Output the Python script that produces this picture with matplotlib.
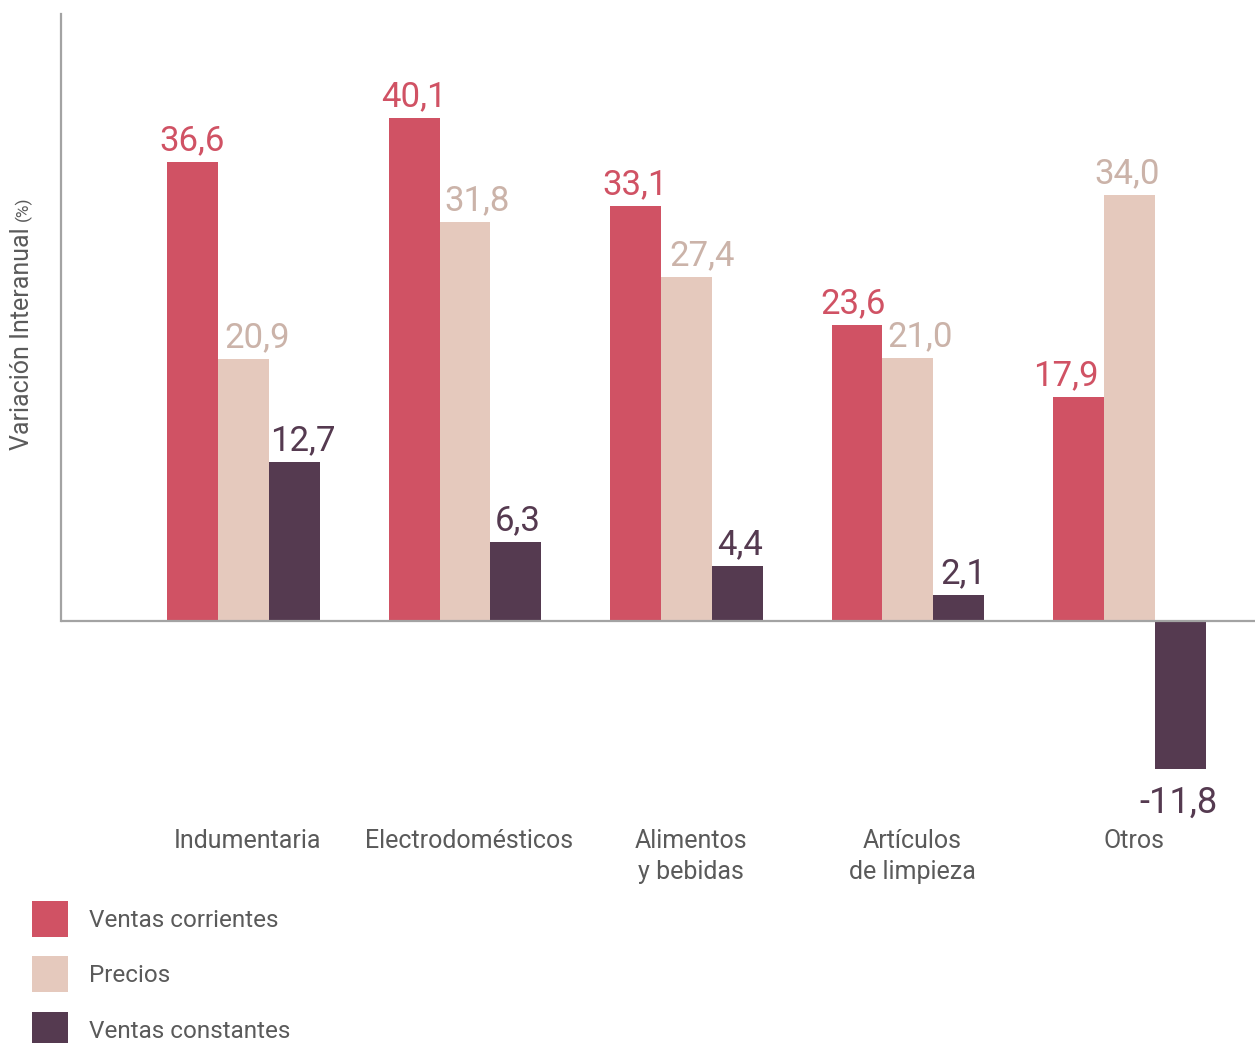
import matplotlib.pyplot as plt
import numpy as np

plt.rcParams['font.family'] = ['Roboto', 'DejaVu Sans']

# data
categories = ['Indumentaria', 'Electrodomésticos', 'Alimentos\ny bebidas',
              'Artículos\nde limpieza', 'Otros']
ventas_corrientes = [36.6, 40.1, 33.1, 23.6, 17.9]
precios = [20.9, 31.8, 27.4, 21.0, 34.0]
ventas_constantes = [12.7, 6.3, 4.4, 2.1, -11.8]
series_names = ['Ventas corrientes', 'Precios', 'Ventas constantes']

colors = ['#D05264', '#E5C9BD', '#553A50']
label_colors = ['#D05264', '#CBB3A9', '#553A50']
gray = '#A3A3A3'
text_gray = '#5A5A5A'

# horizontal nudges (in points) so the value labels don't collide
nudges = [[0, 0, 0, -3, -9],
          [10, 9, 11, 9, -2],
          [6, 1, 2, 3, -1]]

W, H = 1255, 1043
fig = plt.figure(figsize=(W / 100, H / 100), dpi=100)

# axes placed in pixel coords: left 61, top 14, bottom 800
ax = fig.add_axes([61 / W, 1 - 800 / H, 1 - 61 / W, (800 - 14) / H])

x = np.arange(len(categories))
width = 0.23
ax.set_xlim(-0.824, 4.567)
ax.set_ylim(-14.27, 48.4)

all_series = [ventas_corrientes, precios, ventas_constantes]
for i, vals in enumerate(all_series):
    pos = x + (i - 1) * width
    ax.bar(pos, vals, width, color=colors[i], label=series_names[i], zorder=2)
    for j, (px, v) in enumerate(zip(pos, vals)):
        txt = f'{v:.1f}'.replace('.', ',')
        if v >= 0:
            ax.annotate(txt, (px, v), xytext=(nudges[i][j], 8.5), textcoords='offset points',
                        ha='center', va='baseline', fontsize=25, color=label_colors[i])
        else:
            ax.annotate(txt, (px, v), xytext=(nudges[i][j], -11), textcoords='offset points',
                        ha='center', va='top', fontsize=26, color=label_colors[i])

ax.axhline(0, color=gray, lw=1.6, zorder=3)

for s in ['top', 'right', 'bottom']:
    ax.spines[s].set_visible(False)
ax.spines['left'].set_color(gray)
ax.spines['left'].set_linewidth(1.6)
ax.spines['left'].set_bounds(0, 48.4)
ax.set_xticks([])
ax.set_yticks([])
ax.patch.set_alpha(0)

# category labels below the chart
for xi, cat in zip(x, categories):
    ax.text(xi + 0.02, -16.55, cat, ha='center', va='top', fontsize=18,
            color=text_gray, linespacing=1.4, clip_on=False)

# y label, with a smaller "(%)"
ylab = fig.text(22 / W, 1 - 450 / H, 'Variación Interanual', rotation=90, ha='center',
                va='bottom', fontsize=18, color=text_gray)
fig.canvas.draw()
bb = ylab.get_window_extent()
fig.text(23 / W, (bb.y1 + 6) / H, '(%)', rotation=90, ha='center',
         va='bottom', fontsize=12.5, color=text_gray)

fig.legend(loc='upper left', bbox_to_anchor=(32 / W, 1 - 901 / H), frameon=False,
           fontsize=17.5, handlelength=1.48, handleheight=1.9, labelspacing=0.8,
           handletextpad=0.85, borderpad=0, borderaxespad=0, labelcolor=text_gray)

fig.savefig('out.png', dpi=100)
